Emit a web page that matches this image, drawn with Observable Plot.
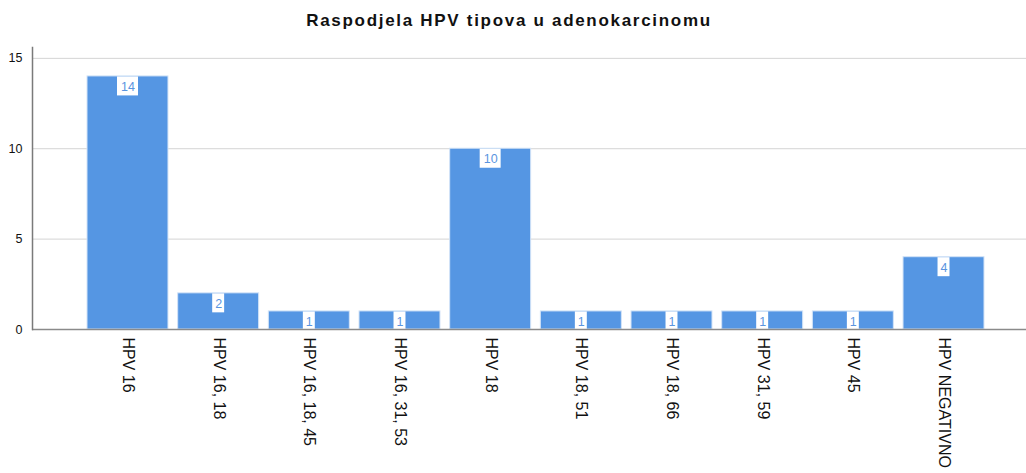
<!DOCTYPE html>
<html>
<head>
<meta charset="utf-8">
<script src="https://cdn.jsdelivr.net/npm/d3@7"></script>
<script src="https://cdn.jsdelivr.net/npm/@observablehq/plot@0.6"></script>
<style>
  html, body { margin: 0; padding: 0; background: #fff; }
  #title { width: 1026px; height: 40px; line-height: 40px; text-align: center;
    font-family: "Liberation Sans", Arial, sans-serif; font-weight: bold; font-size: 17px;
    letter-spacing: 1.7px; color: #111; padding-top: 1px; padding-right: 8px; box-sizing: border-box; }
  #chart svg { display: block; }
</style>
</head>
<body>
<div id="title">Raspodjela HPV tipova u adenokarcinomu</div>
<div id="chart"></div>
<script>
const categories = ["HPV 16", "HPV 16, 18", "HPV 16, 18, 45", "HPV 16, 31, 53", "HPV 18", "HPV 18, 51", "HPV 18, 66", "HPV 31, 59", "HPV 45", "HPV NEGATIVNO"];
const counts = [14, 2, 1, 1, 10, 1, 1, 1, 1, 4];
const yTicks = [0, 5, 10, 15];

const data = categories.map((c, i) => ({cat: c, v: counts[i]}));
const barColor = "#5596e3";

const chart = Plot.plot({
  width: 1026,
  height: 433,
  marginLeft: 32,
  marginRight: 0,
  marginTop: 7,
  marginBottom: 144,
  style: {fontFamily: "'Liberation Sans', Arial, sans-serif", background: "#fff"},
  x: {domain: categories, paddingInner: 0.107, paddingOuter: 0.535, align: 0.567, round: false, label: null},
  y: {domain: [0, 15.6], label: null},
  marks: [
    Plot.gridY(yTicks.filter(t => t > 0), {stroke: "#d4d4d4", strokeOpacity: 1}),
    Plot.barY(data, {x: "cat", y: "v", fill: barColor, stroke: "#d3e3f7", strokeWidth: 1}),
    Plot.tickY(data.filter(d => d.v < 10), {x: "cat", y: "v", stroke: "white", strokeWidth: 19, dy: 9.5, insetLeft: 34.5, insetRight: 34.5, clip: true}),
    Plot.tickY(data.filter(d => d.v >= 10), {x: "cat", y: "v", stroke: "white", strokeWidth: 19, dy: 9.5, insetLeft: 30, insetRight: 30, clip: true}),
    Plot.text(data, {x: "cat", y: "v", text: d => String(d.v), dy: 10.5, fill: "#5a95df", fontSize: 12.5}),
    Plot.ruleY([0], {stroke: "#8a8a8a", strokeWidth: 1.5}),
    Plot.frame({anchor: "left", stroke: "#7a7a7a", strokeWidth: 1.5}),
    Plot.axisY({ticks: yTicks, tickSize: 0, tickPadding: 10, fontSize: 12.5, fill: "#111", label: null}),
    Plot.axisX({tickSize: 0, tickRotate: 90, tickPadding: 8, fontSize: 16, fill: "#111", label: null})
  ]
});
document.getElementById("chart").appendChild(chart);
</script>
</body>
</html>
